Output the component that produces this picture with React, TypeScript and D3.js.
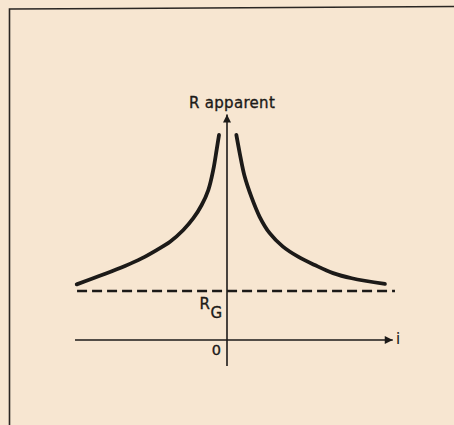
import React, { useEffect, useRef } from 'react';
import * as d3 from 'd3';

// curve readings: i (current, arbitrary units) and apparent resistance
const leftI = [-0.884, -0.728, -0.6, -0.502, -0.414, -0.335, -0.257, -0.198, -0.149, -0.11, -0.081, -0.061, -0.047];
const leftR = [2.27, 2.67, 3.02, 3.33, 3.67, 4.01, 4.49, 4.97, 5.51, 6.12, 6.94, 7.76, 8.37];
const rightI = [0.055, 0.075, 0.104, 0.143, 0.192, 0.251, 0.329, 0.418, 0.516, 0.624, 0.734, 0.929];
const rightR = [8.37, 7.62, 6.67, 5.85, 5.03, 4.36, 3.81, 3.4, 3.06, 2.73, 2.52, 2.29];

const rG = 2;
const xAxisExtent = [-0.894, 0.975];
const yAxisExtent = [-1.06, 9.2];
const dashExtent = [-0.882, 0.988];

const yTitle = 'R apparent';
const xTitle = 'i';
const originLabel = '0';

const W = 454;
const H = 425;
const INK = '#1c1a18';

const App = () => {
  const ref = useRef<SVGSVGElement>(null);

  useEffect(() => {
    const svg = d3.select(ref.current);
    svg.selectAll('*').remove();

    const x = d3.scaleLinear().domain([-1, 1]).range([57, 397]);
    const y = d3.scaleLinear().domain([0, 10]).range([340, 95]);

    // paper
    svg.append('rect').attr('width', W).attr('height', H).attr('fill', '#f7e6d1');

    // frame of the scanned figure
    svg.append('path')
      .attr('d', `M9.5,${H} L9.5,9 L120,8.5 L${W},6.5`)
      .attr('fill', 'none')
      .attr('stroke', '#2a2623')
      .attr('stroke-width', 1.6);

    const defs = svg.append('defs');
    defs.append('marker')
      .attr('id', 'arrow')
      .attr('viewBox', '0 0 10 10')
      .attr('refX', 10)
      .attr('refY', 5)
      .attr('markerWidth', 10)
      .attr('markerHeight', 8)
      .attr('markerUnits', 'userSpaceOnUse')
      .attr('orient', 'auto')
      .append('path')
      .attr('d', 'M0,0 L10,5 L0,10 Z')
      .attr('fill', INK);

    // axes
    svg.append('line')
      .attr('x1', x(xAxisExtent[0])).attr('x2', x(xAxisExtent[1]))
      .attr('y1', y(0)).attr('y2', y(0))
      .attr('stroke', INK).attr('stroke-width', 1.6)
      .attr('marker-end', 'url(#arrow)');

    svg.append('line')
      .attr('x1', x(0)).attr('x2', x(0))
      .attr('y1', y(yAxisExtent[0])).attr('y2', y(yAxisExtent[1]))
      .attr('stroke', INK).attr('stroke-width', 1.6)
      .attr('marker-end', 'url(#arrow)');

    // asymptote R_G
    svg.append('line')
      .attr('x1', x(dashExtent[0])).attr('x2', x(dashExtent[1]))
      .attr('y1', y(rG)).attr('y2', y(rG))
      .attr('stroke', INK).attr('stroke-width', 2.4)
      .attr('stroke-dasharray', '10,5');

    const line = d3.line<[number, number]>()
      .x(d => x(d[0]))
      .y(d => y(d[1]))
      .curve(d3.curveCatmullRom.alpha(0.5));

    const branches: [number, number][][] = [
      leftI.map((v, k) => [v, leftR[k]] as [number, number]),
      rightI.map((v, k) => [v, rightR[k]] as [number, number]),
    ];

    svg.selectAll('path.branch')
      .data(branches)
      .join('path')
      .attr('class', 'branch')
      .attr('d', d => line(d))
      .attr('fill', 'none')
      .attr('stroke', INK)
      .attr('stroke-width', 3.8)
      .attr('stroke-linecap', 'round');

    const font = '"DejaVu Sans", sans-serif';
    const label = (sel: d3.Selection<SVGTextElement, unknown, null, undefined>, size: number) =>
      sel.attr('font-family', font)
        .attr('font-size', size)
        .attr('fill', INK)
        .attr('stroke', INK)
        .attr('stroke-width', 0.35);

    svg.append('text')
      .attr('x', 189).attr('y', 107.5)
      .attr('letter-spacing', 0.3)
      .call(label, 15)
      .text(yTitle);

    svg.append('text')
      .attr('x', 396).attr('y', 344)
      .call(label, 15)
      .attr('stroke-width', 0.1)
      .text(xTitle);

    svg.append('text')
      .attr('x', x(0) - 6).attr('y', y(0) + 15)
      .attr('text-anchor', 'end')
      .call(label, 14.5)
      .text(originLabel);

    const rg = svg.append('text')
      .attr('x', 199.5).attr('y', y(rG) + 17.5)
      .call(label, 15);
    rg.append('tspan').text('R');
    rg.append('tspan').attr('dy', 9).attr('dx', 0.5).text('G');
  }, []);

  return (
    <svg
      ref={ref}
      width={W}
      height={H}
      style={{ position: 'absolute', top: 0, left: 0, display: 'block' }}
    />
  );
};

export default App;
